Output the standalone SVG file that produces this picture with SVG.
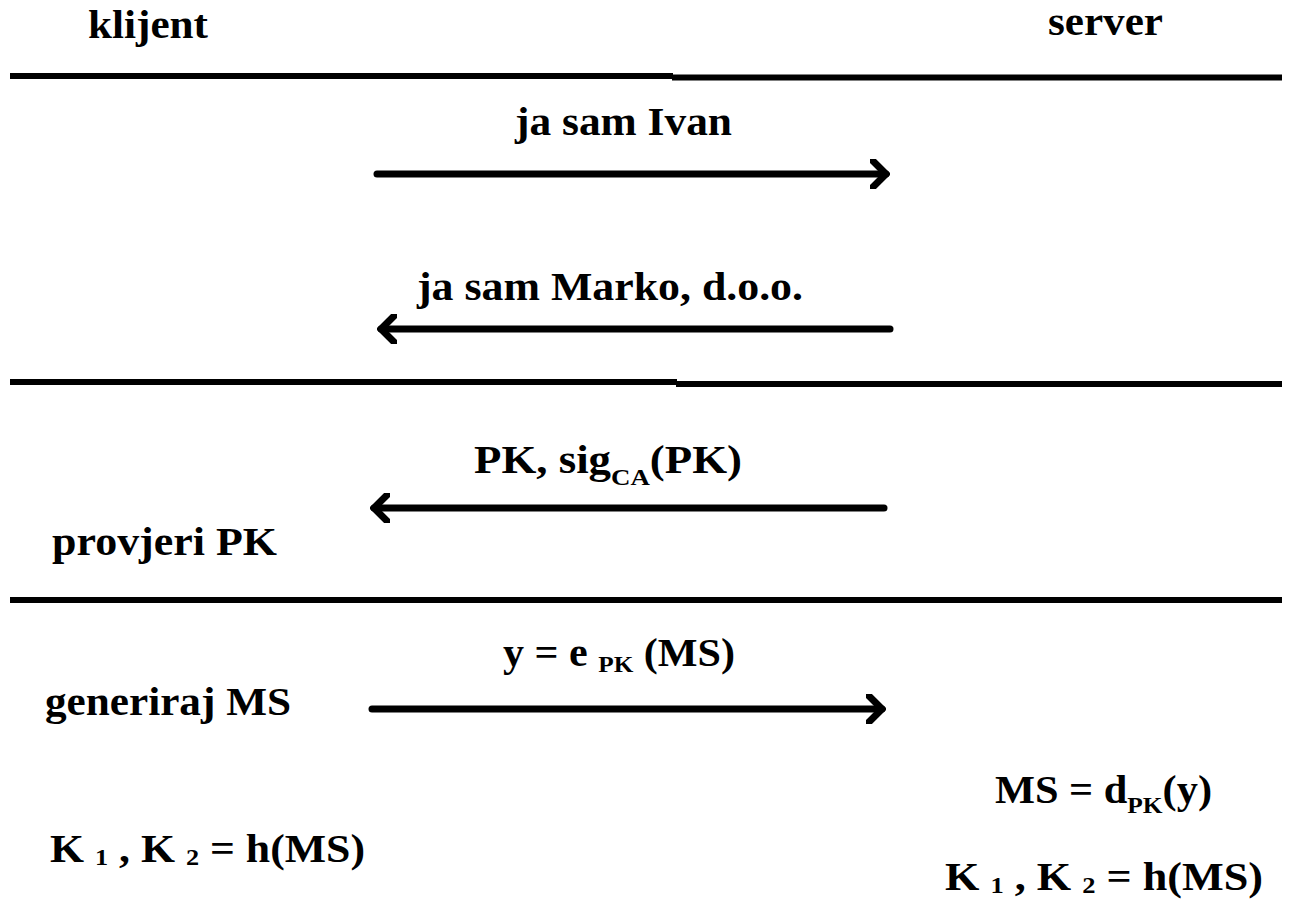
<svg xmlns="http://www.w3.org/2000/svg" width="1291" height="903" viewBox="0 0 1291 903">
<style>
.t{font-family:"Liberation Serif","Times New Roman",serif;font-weight:bold;font-size:40px;fill:#000}
.s{font-size:24px}
.sep{stroke:#000;stroke-width:6;fill:none}
.arr{stroke:#000;stroke-width:7;stroke-linecap:round;fill:none}
</style>
<defs>
<marker id="ah" viewBox="0 0 20 30" refX="16" refY="15" markerWidth="20" markerHeight="30" markerUnits="userSpaceOnUse" orient="auto">
<path d="M3,2 L16,15 L3,28" fill="none" stroke="#000" stroke-width="7" stroke-linecap="round" stroke-linejoin="miter"/>
</marker>
</defs>
<rect width="1291" height="903" fill="#fff"/>
<g id="separators">
<line class="sep" x1="10" y1="76" x2="673" y2="76"/>
<line class="sep" x1="672" y1="77.5" x2="1282" y2="77.5"/>
<line class="sep" x1="10" y1="382" x2="677" y2="382"/>
<line class="sep" x1="676" y1="384" x2="1282" y2="384"/>
<line class="sep" x1="10" y1="600" x2="1282" y2="600"/>
</g>
<g id="klijent"><text class="t" x="88" y="38" textLength="120" lengthAdjust="spacingAndGlyphs">klijent</text></g>
<g id="server"><text class="t" x="1048" y="35" textLength="115" lengthAdjust="spacingAndGlyphs">server</text></g>
<g id="connectors">
<g id="msg1"><line class="arr" x1="377" y1="174" x2="886" y2="174" marker-end="url(#ah)"/>
<text class="t" x="515" y="135" textLength="217" lengthAdjust="spacingAndGlyphs">ja sam Ivan</text></g>
<g id="msg2"><line class="arr" x1="890" y1="329" x2="381" y2="329" marker-end="url(#ah)"/>
<text class="t" x="417" y="300" textLength="386" lengthAdjust="spacingAndGlyphs">ja sam Marko, d.o.o.</text></g>
<g id="msg3"><line class="arr" x1="884" y1="508" x2="374" y2="508" marker-end="url(#ah)"/>
<text class="t" x="474" y="473" textLength="268" lengthAdjust="spacingAndGlyphs">PK, sig<tspan class="s" dy="12">CA</tspan><tspan dy="-12">(PK)</tspan></text></g>
<g id="msg4"><line class="arr" x1="372" y1="709" x2="882" y2="709" marker-end="url(#ah)"/>
<text class="t" x="503" y="666" textLength="232" lengthAdjust="spacingAndGlyphs">y = e <tspan class="s" dy="6">PK</tspan><tspan dy="-6"> (MS)</tspan></text></g>
</g>
<g id="provjeri"><text class="t" x="52" y="555" textLength="225" lengthAdjust="spacingAndGlyphs">provjeri PK</text></g>
<g id="generiraj"><text class="t" x="45" y="715" textLength="246" lengthAdjust="spacingAndGlyphs">generiraj MS</text></g>
<g id="klijent-keys"><text class="t" x="50" y="862" textLength="315" lengthAdjust="spacingAndGlyphs">K <tspan class="s" dy="3">1</tspan><tspan dy="-3"> , K </tspan><tspan class="s" dy="3">2</tspan><tspan dy="-3">  =  h(MS)</tspan></text></g>
<g id="server-decrypt"><text class="t" x="995" y="803" textLength="217" lengthAdjust="spacingAndGlyphs">MS = d<tspan class="s" dy="10">PK</tspan><tspan dy="-10">(y)</tspan></text></g>
<g id="server-keys"><text class="t" x="945" y="890" textLength="318" lengthAdjust="spacingAndGlyphs">K <tspan class="s" dy="3">1</tspan><tspan dy="-3"> , K </tspan><tspan class="s" dy="3">2</tspan><tspan dy="-3">  =  h(MS)</tspan></text></g>
</svg>
